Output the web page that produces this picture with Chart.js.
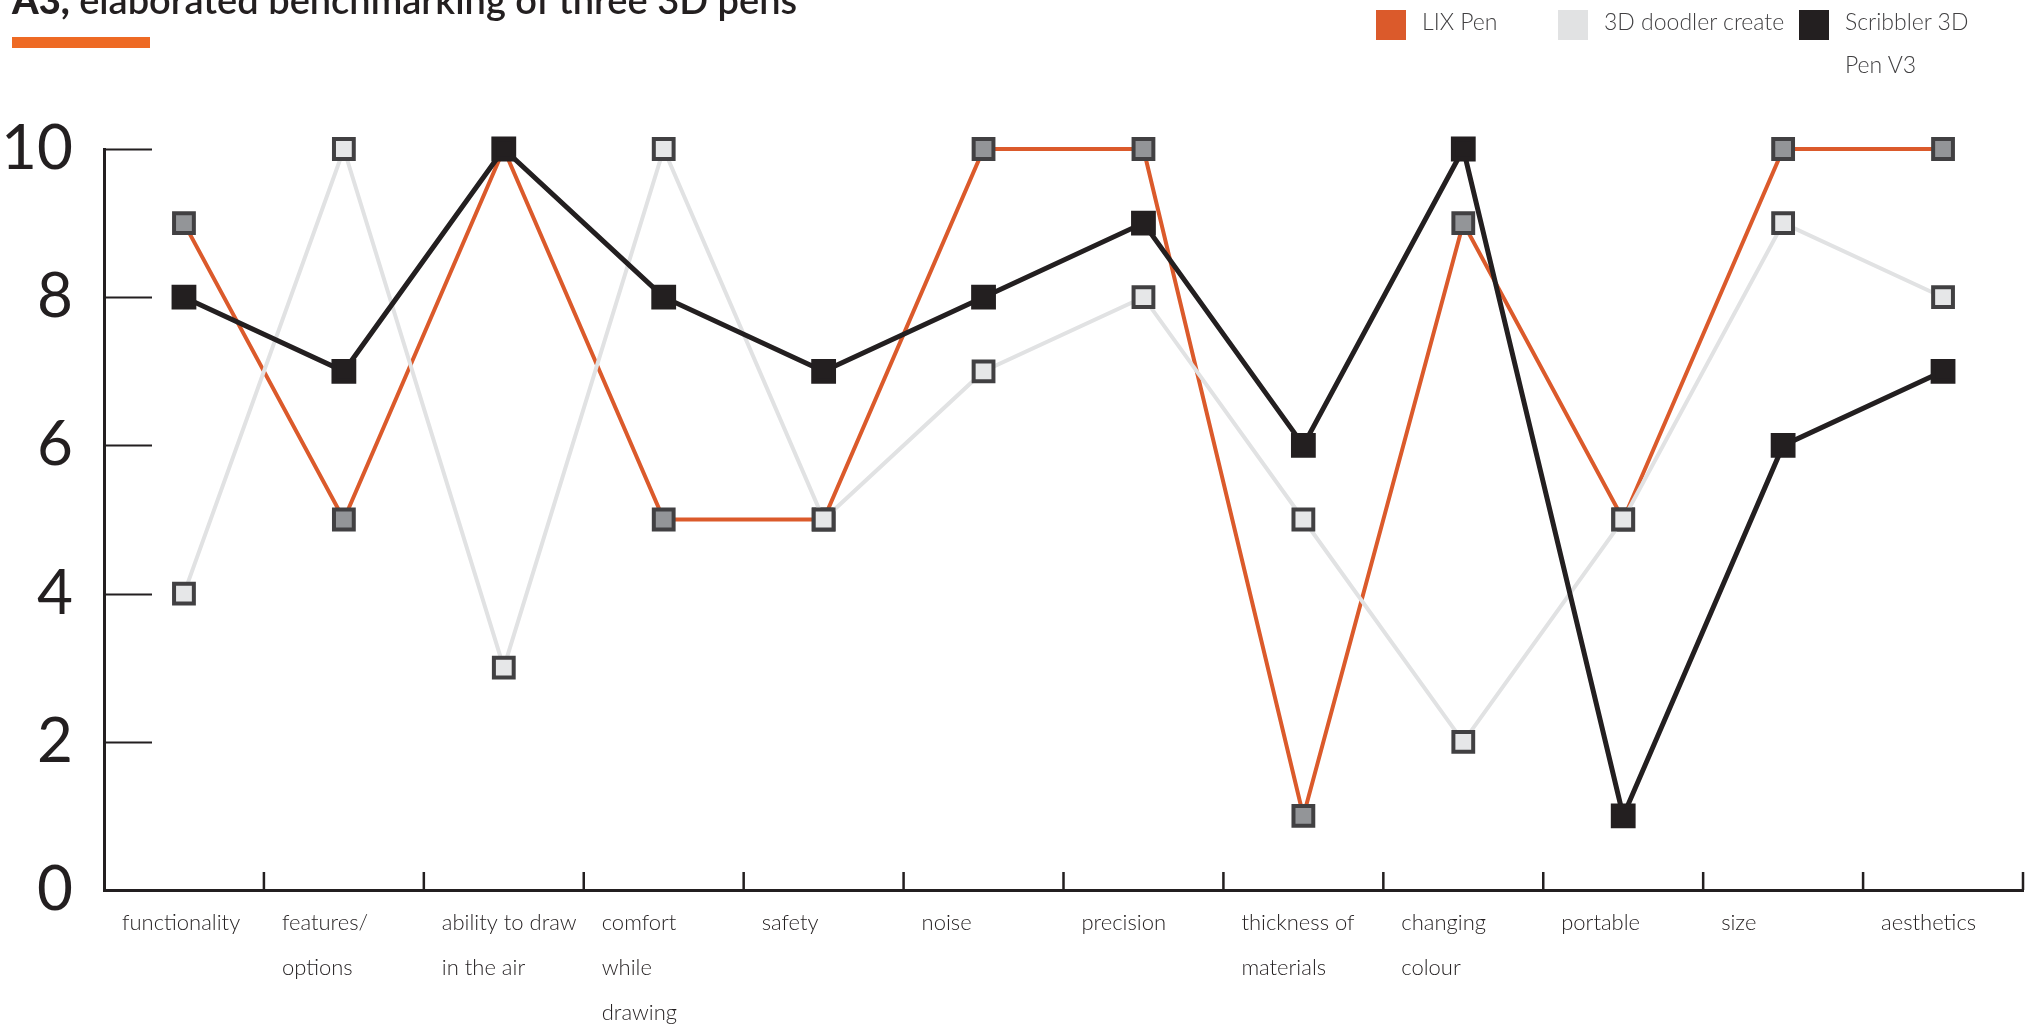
<!DOCTYPE html>
<html>
<head>
<meta charset="utf-8">
<script src="https://cdn.jsdelivr.net/npm/chart.js@4.4.1/dist/chart.umd.min.js"></script>
<style>
  html, body { margin: 0; padding: 0; background: #fff; overflow: hidden; }
  #wrap { position: relative; width: 2031px; height: 1025px; }
  #pens { position: absolute; left: 0; top: 0; }
  #title {
    position: absolute; left: 12px; top: -23px;
    font: 600 38px/1.2 Lato, sans-serif; color: #231f20; white-space: nowrap;
  }
  #title b { font-weight: 900; }
  #bar { position: absolute; left: 12px; top: 37px; width: 138px; height: 11px; background: #ee6a24; }
  #legend { position: absolute; left: 1376px; top: 0; display: flex; }
  .item { display: flex; align-items: flex-start; }
  .swatch { width: 30px; height: 30px; margin-top: 10px; margin-right: 16px; flex: none; }
  .name { font: 300 23px/43px Lato, sans-serif; color: #414042; white-space: nowrap; }
  .name.wrap { white-space: normal; max-width: 130px; }
</style>
</head>
<body>
<div id="wrap">
  <canvas id="pens" width="2031" height="1025"></canvas>
  <div id="title"><b>A3,</b> elaborated benchmarking of three 3D pens</div>
  <div id="bar"></div>
  <div id="legend"></div>
</div>
<script>
// criteria on the x axis (multi-line where the label wraps)
const criteria = [
  ['functionality'],
  ['features/', 'options'],
  ['ability to draw', 'in the air'],
  ['comfort', 'while', 'drawing'],
  ['safety'],
  ['noise'],
  ['precision'],
  ['thickness of', 'materials'],
  ['changing', 'colour'],
  ['portable'],
  ['size'],
  ['aesthetics']
];

const seriesNames = ['LIX Pen', '3D doodler create', 'Scribbler 3D Pen V3'];

// scores 0-10
const lixPen    = [9, 5, 10, 5, 5, 10, 10, 1, 9, 5, 10, 10];
const doodler   = [4, 10, 3, 10, 5, 7, 8, 5, 2, 5, 9, 8];
const scribbler = [8, 7, 10, 8, 7, 8, 9, 6, 10, 1, 6, 7];

const yTicks = [0, 2, 4, 6, 8, 10];

const ink = '#231f20';
const lineColors = ['#db5a2b', '#e1e2e3', ink];
const legendWidths = [182, 241, null];

// legend
const legend = document.getElementById('legend');
seriesNames.forEach((name, i) => {
  const item = document.createElement('div');
  item.className = 'item';
  if (legendWidths[i]) item.style.width = legendWidths[i] + 'px';
  const sw = document.createElement('div');
  sw.className = 'swatch';
  sw.style.background = lineColors[i];
  const txt = document.createElement('div');
  txt.className = legendWidths[i] ? 'name' : 'name wrap';
  txt.textContent = name;
  item.appendChild(sw);
  item.appendChild(txt);
  legend.appendChild(item);
});

// short tick marks drawn inside the plot area
const innerTicks = {
  id: 'innerTicks',
  beforeDatasetsDraw(chart) {
    const { ctx, chartArea, scales: { x, y } } = chart;
    ctx.save();
    ctx.strokeStyle = ink;
    ctx.lineWidth = 2;
    ctx.beginPath();
    yTicks.forEach(v => {
      const py = Math.round(y.getPixelForValue(v)) + 0.5;
      ctx.moveTo(chartArea.left, py);
      ctx.lineTo(chartArea.left + 48, py);
    });
    ctx.stroke();
    ctx.lineWidth = 2.5;
    ctx.beginPath();
    for (let i = 1; i <= criteria.length; i++) {
      const px = x.getPixelForValue(i - 0.5);
      ctx.moveTo(px, chartArea.bottom);
      ctx.lineTo(px, chartArea.bottom - 18);
    }
    ctx.stroke();
    ctx.restore();
  }
};

new Chart(document.getElementById('pens'), {
  type: 'line',
  data: {
    labels: criteria,
    datasets: [
      {
        label: seriesNames[0], data: lixPen, order: 2,
        borderColor: lineColors[0], borderWidth: 4,
        pointBackgroundColor: '#939598', pointBorderColor: '#414042'
      },
      {
        label: seriesNames[1], data: doodler, order: 1,
        borderColor: lineColors[1], borderWidth: 4,
        pointBackgroundColor: '#e6e7e8', pointBorderColor: '#414042'
      },
      {
        label: seriesNames[2], data: scribbler, order: 0,
        borderColor: lineColors[2], borderWidth: 5,
        pointBackgroundColor: ink, pointBorderColor: ink
      }
    ]
  },
  options: {
    responsive: false,
    animation: false,
    layout: { autoPadding: false, padding: { top: 149, right: 8, left: 0, bottom: 0 } },
    plugins: { legend: { display: false }, tooltip: { enabled: false } },
    elements: {
      line: { tension: 0, fill: false },
      point: { pointStyle: 'rect', radius: 14, hoverRadius: 14, borderWidth: 1.5 }
    },
    datasets: { line: { clip: false } },
    scales: {
      x: {
        offset: true,
        grid: { display: false, drawTicks: false, offset: true },
        border: { display: true, color: ink, width: 3 },
        ticks: {
          autoSkip: false, maxRotation: 0, align: 'start', labelOffset: -62, padding: 10,
          color: ink,
          font: { family: 'Lato', size: 22, weight: '300', lineHeight: 2.05 }
        },
        afterFit(scale) {
          scale.height = 135;
          scale.paddingLeft = 0;
          scale.paddingRight = 0;
        }
      },
      y: {
        min: 0, max: 10,
        grid: { display: false, drawTicks: false },
        border: { display: true, color: ink, width: 3 },
        ticks: {
          stepSize: 2, padding: 31, color: ink,
          font: { family: 'Lato', size: 62, weight: '400' }
        },
        afterFit(scale) { scale.width = 104; }
      }
    }
  },
  plugins: [innerTicks]
});
</script>
</body>
</html>
